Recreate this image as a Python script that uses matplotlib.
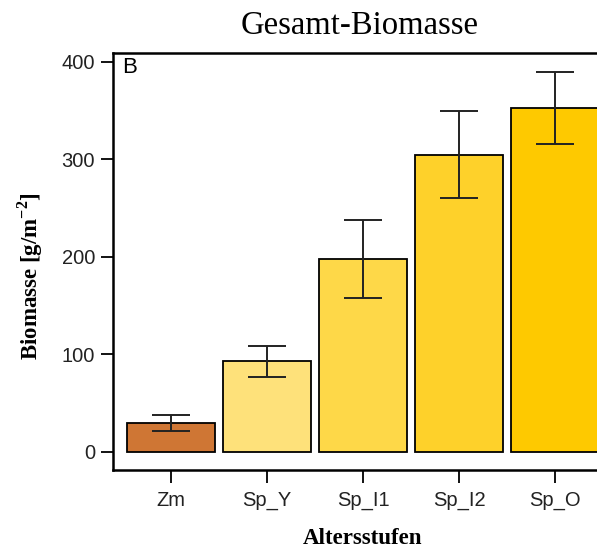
import numpy as np
import matplotlib.pyplot as plt

# data
groups = ["Zm", "Sp_Y", "Sp_I1", "Sp_I2", "Sp_O"]
biomass = [30, 93, 198, 305, 353]
err = [8, 16, 40, 45, 37]
colors = ["#CF7634", "#FEE17A", "#FED848", "#FED12A", "#FEC900"]

fig = plt.figure(figsize=(5.97, 5.51), dpi=100)
# axes runs past the right edge, as in the (cropped) original
ax = fig.add_axes([113 / 597, 81 / 551, 500 / 597, 417 / 551])

x = np.arange(len(groups))
ax.bar(x, biomass, width=0.917, color=colors, edgecolor="black", linewidth=1.3)
ax.errorbar(x, biomass, yerr=err, fmt="none", ecolor="#222222",
            elinewidth=1.4, capsize=14, capthick=1.4)

ax.set_xlim(-0.604, 4.604)
ax.set_ylim(-18.5, 409.2)
ax.set_yticks([0, 100, 200, 300, 400])
ax.set_xticks(x)
ax.set_xticklabels(groups)

for s in ax.spines.values():
    s.set_linewidth(1.8)
ax.tick_params(direction="out", length=9, width=1.3, labelsize=14.5, pad=4)
ax.tick_params(axis="x", pad=6)
for lab in ax.get_xticklabels() + ax.get_yticklabels():
    lab.set_family("Liberation Sans")
    lab.set_color("#222222")

ax.text(0.018, 0.99, "B", transform=ax.transAxes, ha="left", va="top",
        fontsize=16, family="Liberation Sans")

fig.text(360 / 597, 1 - 26 / 551, "Gesamt-Biomasse", ha="center", va="center",
         fontsize=23.5, family="Liberation Serif")
fig.text(363 / 597, 1 - 538 / 551, "Altersstufen", ha="center", va="center",
         fontsize=16.5, family="Liberation Serif", fontweight="bold")
fig.text(30 / 597, 1 - 276 / 551, "Biomasse [g/m$^{\\mathregular{-2}}$]", ha="center",
         va="center", rotation=90, fontsize=16.5, family="Liberation Serif",
         fontweight="bold")

fig.savefig("out.png", dpi=100)
